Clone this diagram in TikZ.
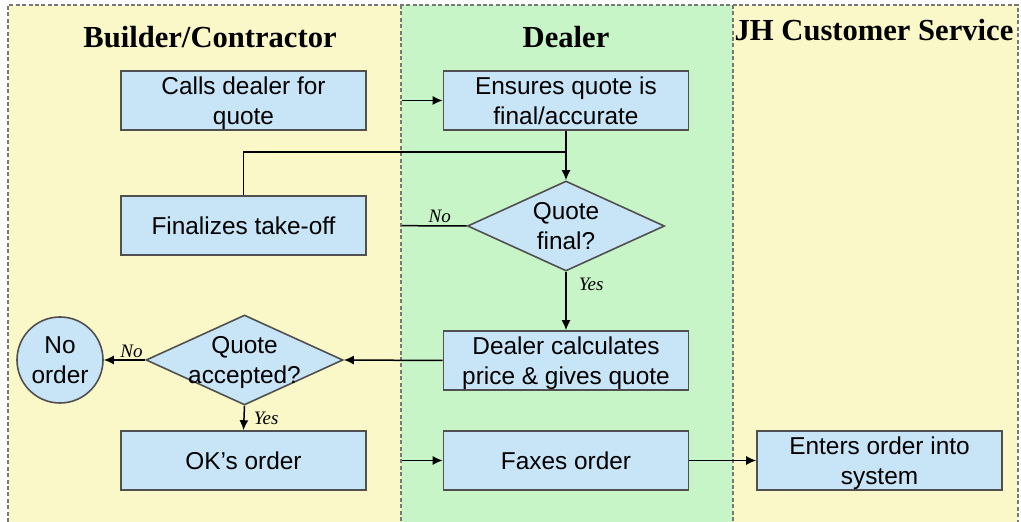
\documentclass[tikz,border=0pt]{standalone}
\usepackage{fontspec}
\setmainfont{Liberation Sans}
\newfontfamily\headfont{Liberation Serif}
\usetikzlibrary{shapes.geometric,arrows.meta}
\definecolor{laneyellow}{RGB}{250,247,200}
\definecolor{lanegreen}{RGB}{200,245,200}
\definecolor{boxblue}{RGB}{200,229,247}
\definecolor{edgegray}{RGB}{80,80,80}
\definecolor{dashgray}{RGB}{120,120,120}
\tikzset{
  x=0.5pt, y=-0.5pt,
  lanetitle/.style={font=\headfont\bfseries\fontsize{15.3}{18}\selectfont, inner sep=0pt},
  stepbox/.style={draw=edgegray, line width=0.8pt, fill=boxblue, minimum width=122.5pt,
    minimum height=29.5pt, inner sep=0pt, align=center,
    font=\fontsize{12.2}{15}\selectfont},
  twoline/.style={text depth=0pt},
  decision/.style={draw=edgegray, line width=0.8pt, fill=boxblue, diamond, inner sep=0pt,
    minimum width=98.5pt, minimum height=45pt},
  dlabel/.style={align=center, inner sep=0pt, text depth=0pt, font=\fontsize{12.2}{15}\selectfont},
  endcircle/.style={draw=edgegray, line width=0.8pt, fill=boxblue, circle, minimum size=43pt,
    inner sep=0pt, align=center, text depth=0pt, font=\fontsize{12.2}{15}\selectfont},
  flow/.style={line width=0.75pt, black},
  arr/.style={flow, -{Latex[length=5pt,width=4.5pt]}},
  answer/.style={font=\headfont\itshape\fontsize{9.5}{11}\selectfont, inner sep=1pt},
  lanebd/.style={dashgray, line width=0.8pt, dash pattern=on 2pt off 1.2pt},
}
\begin{document}
\begin{tikzpicture}
\useasboundingbox (0,0) rectangle (1021,522);
% swim lanes
\fill[laneyellow] (8,5) rectangle (401,522);
\fill[lanegreen] (401,5) rectangle (733,522);
\fill[laneyellow] (733,5) rectangle (1018,522);
\draw[lanebd] (8,522) -- (8,5) -- (1018,5) -- (1018,522);
\draw[lanebd] (401,5) -- (401,522);
\draw[lanebd] (733,5) -- (733,522);
\node[lanetitle] (hb) at (210,37) {Builder/Contractor};
\node[lanetitle] (hd) at (566,37) {Dealer};
\node[lanetitle] (hj) at (874,30) {JH Customer Service};
% steps
\node[stepbox, twoline] (calls) at (243.5,100.5) {Calls dealer for\\quote};
\node[stepbox, twoline] (ensures) at (566,100.5) {Ensures quote is\\final/accurate};
\node[stepbox] (fin) at (243.5,225.5) {Finalizes take-off};
\node[decision, label={[dlabel]center:{Quote\\final?}}] (qf) at (566,226) {};
\node[stepbox, twoline] (calc) at (566,360.5) {Dealer calculates\\price \& gives quote};
\node[decision, label={[dlabel]center:{Quote\\accepted?}}] (qa) at (244.5,360) {};
\node[endcircle] (none) at (60,360) {No\\order};
\node[stepbox] (ok) at (243.5,460.5) {OK’s order};
\node[stepbox] (fax) at (566,460.5) {Faxes order};
\node[stepbox, twoline] (enter) at (879.5,460.5) {Enters order into\\system};
\coordinate (join) at (566,152);
% connectors
\draw[arr, shorten <=17.5pt] (calls.east) -- (ensures.west);
\draw[arr] (ensures.south) -- (qf.north);
\draw[flow] (fin.north) |- (join);
\draw[flow, shorten >=17.5pt] (qf.west) -- node[answer, above, pos=0.27] {No} (fin.east);
\draw[arr] (qf.south) -- node[answer, right, pos=0.22, xshift=5pt] {Yes} (calc.north);
\draw[arr] (calc.west) -- (qa.east);
\draw[arr] (qa.west) -- node[answer, above, pos=0.33] {No} (none.east);
\draw[arr] (qa.south) -- node[answer, right, pos=0.5, xshift=3.5pt] {Yes} (ok.north);
\draw[arr, shorten <=17.5pt] (ok.east) -- (fax.west);
\draw[arr] (fax.east) -- (enter.west);
\end{tikzpicture}
\end{document}
